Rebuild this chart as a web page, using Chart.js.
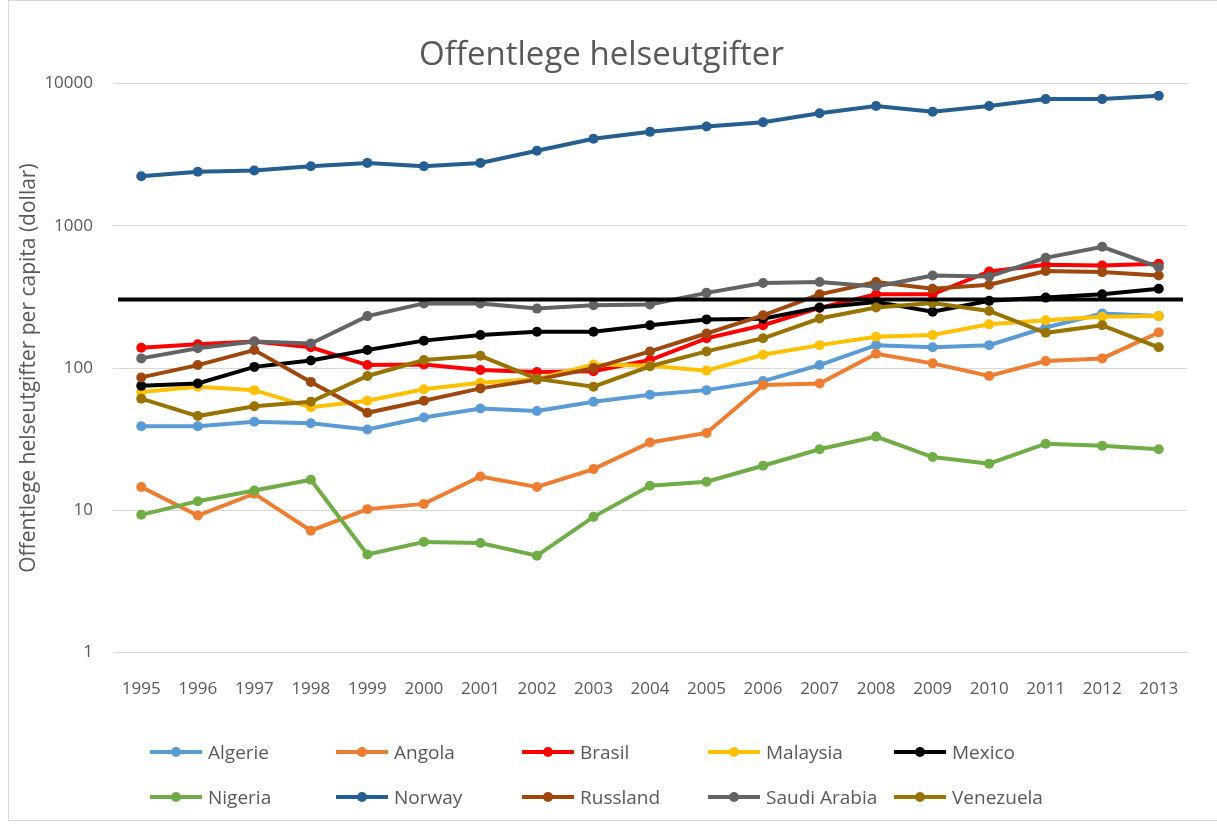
<!DOCTYPE html>
<html>
<head>
<meta charset="utf-8">
<title>Offentlege helseutgifter</title>
<script src="https://cdn.jsdelivr.net/npm/chart.js@4.4.1/dist/chart.umd.min.js"></script>
<style>
  html, body { margin: 0; padding: 0; background: #fff; }
  body { width: 1217px; height: 827px; overflow: hidden; position: relative; font-family: 'Open Sans', sans-serif; }
  #frame { position: absolute; left: 8px; top: 0; width: 1215px; height: 821px; border: 1px solid #d9d9d9; box-sizing: border-box; }
  #chartBox { position: absolute; left: 0; top: 0; width: 1217px; height: 740px; }
  #legend { position: absolute; left: 150px; top: 740px; display: grid; grid-template-columns: repeat(5, 186px); row-gap: 21px; }
  .item { display: flex; align-items: center; height: 24px; font-size: 19px; color: #595959; white-space: nowrap; }
  .swatch { position: relative; width: 52px; height: 4px; margin-right: 6px; }
  .swatch span { position: absolute; left: 21px; top: -3px; width: 10px; height: 10px; border-radius: 50%; }
</style>
</head>
<body>
<div id="frame"></div>
<div id="chartBox"><canvas id="healthChart"></canvas></div>
<div id="legend"></div>

<script>
// Data (dollar per capita, log scale)
const years = ['1995', '1996', '1997', '1998', '1999', '2000', '2001', '2002', '2003', '2004',
               '2005', '2006', '2007', '2008', '2009', '2010', '2011', '2012', '2013'];

const algerie  = [39, 39, 42, 41, 37, 45, 52, 50, 58, 65, 70, 81, 105, 145, 140, 145, 193, 242, 232];
const angola   = [14.6, 9.2, 13.1, 7.2, 10.2, 11.1, 17.3, 14.6, 19.5, 30, 35, 76, 78, 126, 108, 88, 112, 117, 178];
const brasil   = [139, 147, 154, 140, 105, 106, 97, 94, 95, 114, 162, 200, 265, 330, 330, 478, 532, 526, 541];
const malaysia = [68, 74, 70, 53, 59, 71, 79, 84, 106, 104, 96, 124, 145, 166, 171, 203, 217, 230, 232];
const mexico   = [75, 78, 102, 113, 134, 156, 171, 180, 180, 200, 220, 222, 267, 292, 249, 297, 313, 330, 361];
const nigeria  = [9.3, 11.6, 13.8, 16.4, 4.9, 6.0, 5.9, 4.8, 9.0, 14.9, 15.9, 20.6, 26.9, 33, 23.7, 21.3, 29.4, 28.4, 26.9];
const norway   = [2234, 2399, 2449, 2625, 2770, 2625, 2770, 3373, 4090, 4580, 4990, 5350, 6185, 6950, 6350, 6950, 7780, 7780, 8210];
const russland = [86, 105, 134, 80, 48.5, 59, 72, 83, 100, 131, 175, 235, 330, 403, 361, 385, 481, 473, 448];
const saudi    = [117, 138, 154, 149, 232, 285, 285, 262, 277, 280, 338, 396, 403, 375, 448, 441, 596, 713, 512];
const venezuela = [61, 46, 54, 58, 88, 114, 122, 84, 74, 103, 131, 162, 223, 267, 287, 252, 177, 200, 140];

const threshold = 303;
const yTicks = [1, 10, 100, 1000, 10000];

const series = [
    { label: 'Algerie', data: algerie, color: '#5B9BD5' },
    { label: 'Angola', data: angola, color: '#ED7D31' },
    { label: 'Brasil', data: brasil, color: '#FF0000' },
    { label: 'Malaysia', data: malaysia, color: '#FFC000' },
    { label: 'Mexico', data: mexico, color: '#000000' },
    { label: 'Nigeria', data: nigeria, color: '#70AD47' },
    { label: 'Norway', data: norway, color: '#255E91' },
    { label: 'Russland', data: russland, color: '#9E480E' },
    { label: 'Saudi Arabia', data: saudi, color: '#636363' },
    { label: 'Venezuela', data: venezuela, color: '#997300' }
];

const textColor = '#595959';
const fontFamily = "'Open Sans', sans-serif";

// Black reference line drawn on top of the series
const thresholdLine = {
    id: 'thresholdLine',
    afterDatasetsDraw(chart) {
        const { ctx, chartArea, scales } = chart;
        const y = scales.y.getPixelForValue(threshold);
        ctx.save();
        ctx.strokeStyle = '#000';
        ctx.lineWidth = 4;
        ctx.beginPath();
        ctx.moveTo(chartArea.left + 5, y);
        ctx.lineTo(chartArea.right - 4, y);
        ctx.stroke();
        ctx.restore();
    }
};

const ctx = document.getElementById('healthChart').getContext('2d');
const chart = new Chart(ctx, {
    type: 'line',
    data: {
        labels: years,
        datasets: series.map((s, i) => ({
            label: s.label,
            data: s.data,
            borderColor: s.color,
            backgroundColor: s.color,
            pointBackgroundColor: s.color,
            pointBorderColor: s.color,
            borderWidth: 4,
            pointRadius: 5,
            pointBorderWidth: 0,
            tension: 0,
            order: series.length - i
        }))
    },
    options: {
        responsive: true,
        maintainAspectRatio: false,
        animation: false,
        layout: { padding: { left: 16, right: 30, top: 0, bottom: 23 } },
        plugins: {
            legend: { display: false },
            tooltip: { enabled: false },
            title: {
                display: true,
                text: 'Offentlege helseutgifter',
                color: textColor,
                font: { family: fontFamily, size: 33, weight: 'normal' },
                padding: { top: 36, bottom: 8 }
            }
        },
        scales: {
            x: {
                offset: true,
                grid: { display: false },
                border: { display: false },
                ticks: {
                    color: textColor,
                    font: { family: fontFamily, size: 17 },
                    maxRotation: 0,
                    autoSkip: false,
                    padding: 18
                }
            },
            y: {
                type: 'logarithmic',
                min: 1,
                max: 10000,
                afterBuildTicks: (axis) => { axis.ticks = yTicks.map(v => ({ value: v })); },
                afterFit: (axis) => { axis.width = 97; },
                grid: { color: '#d9d9d9', lineWidth: 1, drawTicks: false },
                border: { display: false },
                ticks: {
                    color: textColor,
                    font: { family: fontFamily, size: 17 },
                    padding: 20,
                    callback: (v) => String(v)
                },
                title: {
                    display: true,
                    text: 'Offentlege helseutgifter per capita (dollar)',
                    color: textColor,
                    font: { family: fontFamily, size: 21 },
                    padding: { top: 0, bottom: 6 }
                }
            }
        }
    },
    plugins: [thresholdLine]
});

// Legend in fixed columns like the original
const legendEl = document.getElementById('legend');
chart.data.datasets.forEach(ds => {
    const item = document.createElement('div');
    item.className = 'item';
    item.innerHTML = '<div class="swatch" style="background:' + ds.borderColor + '"><span style="background:' +
        ds.borderColor + '"></span></div>' + ds.label;
    legendEl.appendChild(item);
});
</script>
</body>
</html>
